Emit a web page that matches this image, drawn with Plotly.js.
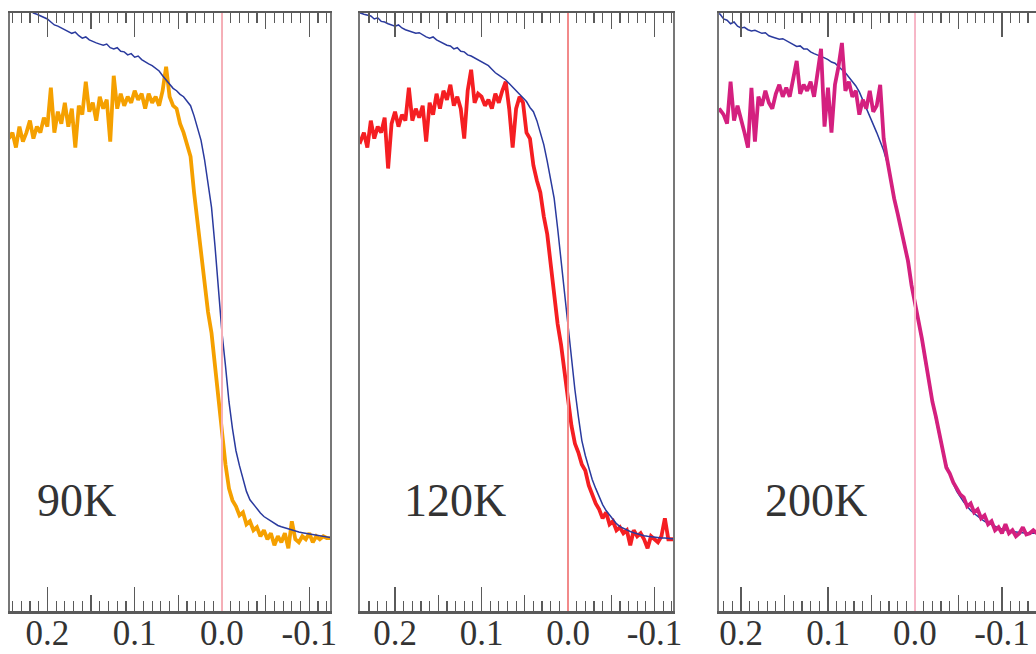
<!DOCTYPE html>
<html>
<head>
<meta charset="utf-8">
<script src="https://cdn.plot.ly/plotly-3.0.1.min.js"></script>
<style>html,body{margin:0;padding:0;background:#fff;}#chart{width:1036px;height:654px;}</style>
</head>
<body>
<div id="chart"></div>
<script>
// Energy axis (binding energy, eV) — sampling grid of the spectra
var energy = [
 0.244,0.240,0.236,0.232,0.228,0.224,0.220,0.216,0.212,0.208,
 0.204,0.200,0.196,0.192,0.188,0.184,0.180,0.176,0.172,0.168,
 0.164,0.160,0.156,0.152,0.148,0.144,0.140,0.136,0.132,0.128,
 0.124,0.120,0.116,0.112,0.108,0.104,0.100,0.096,0.092,0.088,
 0.084,0.080,0.076,0.072,0.068,0.064,0.060,0.056,0.052,0.048,
 0.044,0.040,0.036,0.032,0.028,0.024,0.020,0.016,0.012,0.008,
 0.004,0.000,-0.004,-0.008,-0.012,-0.016,-0.020,-0.024,-0.028,-0.032,
 -0.036,-0.040,-0.044,-0.048,-0.052,-0.056,-0.060,-0.064,-0.068,-0.072,
 -0.076,-0.080,-0.084,-0.088,-0.092,-0.096,-0.100,-0.104,-0.108,-0.112,
 -0.116,-0.120,-0.124,-0.128,-0.132,-0.136,-0.140];

var labels = ["90K", "120K", "200K"];
var tickValues = [0.2, 0.1, 0.0, -0.1];
var tickLabels = ["0.2", "0.1", "0.0", "-0.1"];
var midTickValues = [0.15, 0.05, -0.05];

var ref90 = [
 1.04,1.035,1.03,1.02,1.015,1.01,1.005,1.0,0.998,0.995,
 0.992,0.99,0.985,0.98,0.978,0.975,0.972,0.968,0.966,0.968,
 0.962,0.958,0.96,0.955,0.952,0.95,0.948,0.946,0.948,0.942,
 0.94,0.942,0.936,0.935,0.93,0.932,0.926,0.928,0.922,0.918,
 0.915,0.912,0.908,0.903,0.895,0.888,0.882,0.874,0.87,0.864,
 0.86,0.852,0.845,0.828,0.805,0.787,0.755,0.715,0.675,0.61,
 0.54,0.465,0.41,0.35,0.305,0.268,0.243,0.222,0.2,0.186,
 0.178,0.17,0.164,0.158,0.154,0.15,0.146,0.143,0.141,0.139,
 0.137,0.135,0.134,0.132,0.131,0.13,0.128,0.127,0.126,0.125,
 0.124,0.124,0.123,0.123,0.122,0.122,0.122];

var t90 = [
 0.79,0.80,0.775,0.81,0.785,0.80,0.82,0.79,0.81,0.80,
 0.825,0.81,0.875,0.80,0.835,0.815,0.85,0.81,0.84,0.775,
 0.845,0.83,0.885,0.835,0.85,0.82,0.86,0.84,0.855,0.785,
 0.895,0.84,0.865,0.845,0.86,0.85,0.87,0.855,0.865,0.84,
 0.865,0.85,0.86,0.845,0.87,0.91,0.86,0.845,0.84,0.815,
 0.80,0.78,0.76,0.70,0.65,0.60,0.545,0.50,0.465,0.41,
 0.355,0.30,0.245,0.205,0.185,0.175,0.16,0.165,0.145,0.15,
 0.135,0.14,0.125,0.135,0.12,0.13,0.11,0.125,0.115,0.13,
 0.105,0.15,0.12,0.115,0.125,0.12,0.13,0.115,0.125,0.12,
 0.125,0.122,0.122,0.122,0.122,0.122,0.122];

var ref120 = [
 1.01,1.0,0.998,0.996,0.995,0.99,0.992,0.986,0.985,0.982,
 0.98,0.978,0.98,0.975,0.972,0.97,0.968,0.966,0.967,0.963,
 0.96,0.958,0.96,0.955,0.952,0.95,0.946,0.945,0.94,0.942,
 0.936,0.935,0.93,0.928,0.925,0.922,0.918,0.915,0.912,0.906,
 0.9,0.896,0.892,0.888,0.882,0.876,0.87,0.865,0.858,0.852,
 0.842,0.835,0.82,0.8,0.78,0.752,0.72,0.69,0.64,0.585,
 0.525,0.48,0.42,0.37,0.325,0.285,0.26,0.24,0.22,0.205,
 0.19,0.178,0.168,0.16,0.152,0.146,0.141,0.138,0.135,0.133,
 0.131,0.129,0.128,0.126,0.125,0.124,0.123,0.123,0.122,0.122,
 0.121,0.121,0.121,0.121,0.121,0.121,0.121];

var t120 = [
 0.79,0.785,0.80,0.775,0.82,0.79,0.81,0.80,0.825,0.74,
 0.815,0.835,0.81,0.83,0.82,0.875,0.82,0.84,0.825,0.845,
 0.785,0.85,0.83,0.865,0.84,0.87,0.855,0.88,0.845,0.86,
 0.84,0.79,0.87,0.905,0.85,0.865,0.86,0.845,0.855,0.84,
 0.865,0.85,0.87,0.885,0.84,0.775,0.84,0.86,0.85,0.80,
 0.79,0.745,0.72,0.70,0.66,0.63,0.58,0.525,0.48,0.445,
 0.40,0.35,0.31,0.28,0.265,0.245,0.235,0.21,0.195,0.18,
 0.17,0.155,0.165,0.145,0.15,0.135,0.14,0.13,0.135,0.11,
 0.135,0.125,0.13,0.12,0.105,0.125,0.12,0.115,0.125,0.155,
 0.12,0.12,0.12,0.12,0.12,0.12,0.12];

var ref200 = [
 1.03,1.02,1.01,1.005,1.0,0.998,0.99,0.988,0.982,0.985,
 0.978,0.975,0.976,0.972,0.97,0.971,0.968,0.966,0.967,0.962,
 0.96,0.958,0.956,0.957,0.954,0.95,0.948,0.944,0.945,0.94,
 0.94,0.935,0.932,0.93,0.927,0.925,0.922,0.918,0.916,0.91,
 0.905,0.9,0.893,0.886,0.878,0.868,0.855,0.84,0.828,0.815,
 0.8,0.785,0.77,0.75,0.72,0.69,0.665,0.64,0.61,0.585,
 0.55,0.515,0.485,0.45,0.415,0.38,0.35,0.32,0.29,0.265,
 0.245,0.228,0.213,0.2,0.19,0.182,0.175,0.168,0.163,0.158,
 0.154,0.15,0.147,0.144,0.141,0.139,0.137,0.135,0.134,0.133,
 0.132,0.131,0.131,0.13,0.13,0.13,0.13];

var t200 = [
 0.83,0.82,0.84,0.82,0.835,0.838,0.83,0.815,0.885,0.82,
 0.845,0.825,0.80,0.775,0.875,0.785,0.86,0.845,0.87,0.85,
 0.84,0.865,0.88,0.86,0.875,0.86,0.89,0.92,0.865,0.88,
 0.87,0.885,0.86,0.90,0.94,0.81,0.875,0.80,0.88,0.91,
 0.95,0.87,0.885,0.86,0.87,0.83,0.855,0.84,0.87,0.835,
 0.845,0.88,0.79,0.755,0.72,0.69,0.665,0.64,0.61,0.585,
 0.545,0.515,0.49,0.455,0.42,0.38,0.35,0.325,0.295,0.265,
 0.24,0.23,0.215,0.205,0.195,0.19,0.175,0.18,0.165,0.17,
 0.155,0.16,0.145,0.15,0.135,0.14,0.13,0.145,0.13,0.135,
 0.125,0.13,0.14,0.128,0.13,0.135,0.13];

var blueColor = "#2a3a9e";
var tempColors = ["#f5a000", "#f51e22", "#d4207f"];
var zeroColors = ["#f6b0b8", "#f28a8a", "#f7b8c8"];
var tempSeries = [t90, t120, t200];
var refSeries = [ref90, ref120, ref200];

var W = 1036, H = 654;
var panelsPx = [[10, 330], [360, 673], [719, 1036]];
var ranges = [[0.2428, -0.1237], [0.2405, -0.1214], [0.2253, -0.1391]];
var yDom = [(H - 611) / H, (H - 13) / H];
var labelX = [35, 402, 763];

var serif = "Liberation Serif, Times New Roman, serif";
var axisCol = "#5a5a5a";

var traces = [];
var layout = {
  width: W, height: H,
  margin: {l: 0, r: 0, t: 0, b: 0},
  paper_bgcolor: "#ffffff", plot_bgcolor: "#ffffff",
  showlegend: false,
  shapes: [], annotations: []
};

for (var p = 0; p < 3; p++) {
  var xs = p === 0 ? "" : String(p + 1);
  var ovr = String(p + 4);
  var tempTrace = {
    x: energy, y: tempSeries[p], type: "scatter", mode: "lines",
    line: {color: tempColors[p], width: 3.8},
    xaxis: "x" + xs, yaxis: "y" + xs, hoverinfo: "skip"
  };
  var refTrace = {
    x: energy, y: refSeries[p], type: "scatter", mode: "lines",
    line: {color: blueColor, width: 1.5},
    xaxis: "x" + xs, yaxis: "y" + xs, hoverinfo: "skip"
  };
  // invisible carrier so the overlay (mid-tick) axis is rendered
  var carrier = {
    x: energy, y: refSeries[p], type: "scatter", mode: "lines",
    line: {color: "rgba(0,0,0,0)", width: 0}, opacity: 0,
    xaxis: "x" + ovr, yaxis: "y" + xs, hoverinfo: "skip"
  };
  traces.push(carrier);
  if (p < 2) { traces.push(tempTrace); traces.push(refTrace); }
  else { traces.push(refTrace); traces.push(tempTrace); }

  var dom = [panelsPx[p][0] / W, panelsPx[p][1] / W];
  layout["xaxis" + xs] = {
    domain: dom, range: ranges[p], anchor: "y" + xs,
    tickmode: "array", tickvals: tickValues, ticktext: tickLabels,
    ticks: "inside", ticklen: 24, tickwidth: 1.5, tickcolor: axisCol,
    showline: true, linecolor: axisCol, linewidth: 2.5, mirror: "ticks",
    showgrid: false, zeroline: false,
    minor: {tickmode: "linear", tick0: 0, dtick: 0.01, ticks: "inside", ticklen: 10, tickwidth: 1.2, tickcolor: axisCol, showgrid: false},
    tickfont: {family: serif, size: 35, color: "#333333"},
    ticklabelstandoff: -11,
    fixedrange: true
  };
  layout["xaxis" + ovr] = {
    overlaying: "x" + xs, anchor: "y" + xs, range: ranges[p],
    tickmode: "array", tickvals: midTickValues,
    ticks: "inside", ticklen: 16, tickwidth: 1.4, tickcolor: axisCol,
    showticklabels: false, showline: false, mirror: "ticks",
    showgrid: false, zeroline: false, fixedrange: true
  };
  layout["yaxis" + xs] = {
    domain: yDom, range: [0, 1], anchor: "x" + xs,
    showline: true, linecolor: "#777777", linewidth: 2, mirror: p < 2,
    ticks: "", showticklabels: false, showgrid: false, zeroline: false,
    fixedrange: true
  };
  layout.shapes.push({
    type: "line", xref: "x" + xs, yref: "y" + xs + " domain",
    x0: 0, x1: 0, y0: 0, y1: 1, layer: "above",
    line: {color: zeroColors[p], width: 2}
  });
  layout.annotations.push({
    text: labels[p], xref: "paper", yref: "paper",
    x: labelX[p] / W, y: (H - 500) / H, xanchor: "left", yanchor: "middle",
    showarrow: false, font: {family: serif, size: 46, color: "#333333"}
  });
}

Plotly.newPlot("chart", traces, layout, {displayModeBar: false, staticPlot: true});
</script>
</body>
</html>
